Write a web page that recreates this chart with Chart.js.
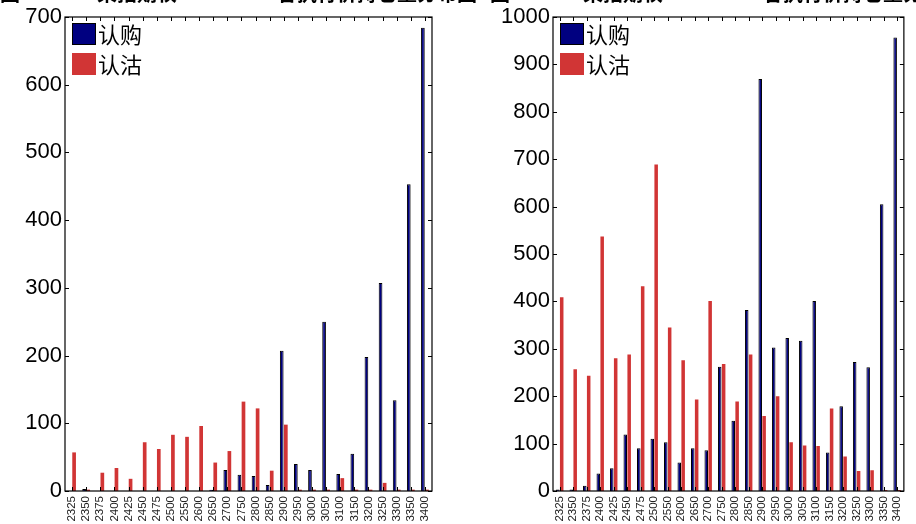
<!DOCTYPE html>
<html>
<head>
<meta charset="utf-8">
<script src="https://cdn.jsdelivr.net/npm/chart.js@4/dist/chart.umd.min.js"></script>
<style>
  html, body { margin: 0; padding: 0; background: #fff; overflow: hidden; }
  #wrap { position: relative; width: 916px; height: 524px; }
  .pane { position: absolute; top: 0; width: 458px; height: 524px; }
  .ttl { position: absolute; top: -17px; font: bold 20px "Noto Sans CJK SC", sans-serif; line-height: 20px; color: #000; white-space: nowrap; }
</style>
</head>
<body>
<div id="wrap">
  <div class="pane" style="left:0"><canvas id="leftChart" width="458" height="524"></canvas></div>
  <div class="pane" style="left:458px"><canvas id="rightChart" width="458" height="524"></canvas></div>
  <div class="ttl" style="left:0">图</div>
  <div class="ttl" style="left:97px">某指期权</div>
  <div class="ttl" style="left:277px">各执行价持仓量分布图</div>
  <div class="ttl" style="left:490px">图</div>
  <div class="ttl" style="left:583px">某指期权</div>
  <div class="ttl" style="left:763px">各执行价持仓量分布图</div>
</div>
<script>
// --- data ---
const strikes = ['2325', '2350', '2375', '2400', '2425', '2450', '2475', '2500', '2550', '2600', '2650',
    '2700', '2750', '2800', '2850', '2900', '2950', '3000', '3050', '3100', '3150', '3200', '3250', '3300',
    '3350', '3400'];
const seriesNames = ['认购', '认沽'];

const leftCall = [0, 3, 0, 0, 0, 0, 0, 0, 0, 0, 2, 31, 24, 22, 9, 207, 40, 31, 250, 25, 55, 198, 307, 134, 453, 684];
const leftPut = [57, 2, 27, 34, 18, 72, 62, 83, 80, 96, 42, 59, 132, 122, 30, 98, 2, 2, 2, 19, 2, 2, 12, 2, 2, 2];

const rightCall = [3, 3, 11, 37, 48, 119, 90, 110, 103, 60, 90, 86, 262, 148, 382, 869, 303, 323, 317, 401, 81, 179, 272, 261, 605, 957];
const rightPut = [409, 257, 243, 537, 280, 288, 432, 689, 345, 276, 193, 401, 268, 189, 288, 158, 200, 103, 96, 95, 174, 73, 42, 44, 2, 2];

const leftTicks = [0, 100, 200, 300, 400, 500, 600, 700];
const rightTicks = [0, 100, 200, 300, 400, 500, 600, 700, 800, 900, 1000];

const callColor = '#000080';
const putColor = '#d13535';

// frame, inward ticks and legend drawn on top of the plot
const framePlugin = {
    id: 'frame',
    afterDraw(chart) {
        const ctx = chart.ctx;
        const a = chart.chartArea;
        const x = chart.scales.x;
        const y = chart.scales.y;
        ctx.save();
        ctx.strokeStyle = '#000';
        ctx.lineWidth = 1.2;
        ctx.strokeRect(a.left, a.top, a.right - a.left, a.bottom - a.top);
        ctx.lineWidth = 1;
        ctx.beginPath();
        for (let i = 0; i < y.ticks.length; i++) {
            const py = Math.round(y.getPixelForTick(i)) + 0.5;
            ctx.moveTo(a.left, py); ctx.lineTo(a.left + 4, py);
            ctx.moveTo(a.right, py); ctx.lineTo(a.right - 4, py);
        }
        for (let i = 0; i < x.ticks.length; i++) {
            const px = Math.round(x.getPixelForTick(i)) + 0.5;
            ctx.moveTo(px, a.top); ctx.lineTo(px, a.top + 4);
            ctx.moveTo(px, a.bottom); ctx.lineTo(px, a.bottom - 4);
        }
        ctx.stroke();

        // legend
        ctx.font = '22px "Noto Sans CJK SC", sans-serif';
        ctx.textBaseline = 'middle';
        chart.data.datasets.forEach((ds, i) => {
            const bx = a.left + 7;
            const by = a.top + 6 + i * 30;
            ctx.fillStyle = ds.backgroundColor;
            ctx.fillRect(bx, by, 24, 22);
            if (ds.borderWidth) {
                ctx.strokeStyle = '#000';
                ctx.strokeRect(bx + 0.5, by + 0.5, 23, 21);
            }
            ctx.fillStyle = '#000';
            ctx.fillText(ds.label, bx + 26, by + 12);
        });
        ctx.restore();
    }
};

function makeChart(id, calls, puts, ticks, yWidth, padRight) {
    const ctx = document.getElementById(id).getContext('2d');
    return new Chart(ctx, {
        type: 'bar',
        data: {
            labels: strikes,
            datasets: [{
                label: seriesNames[0],
                data: calls,
                backgroundColor: callColor,
                borderColor: '#000',
                borderWidth: 1,
                borderSkipped: 'bottom'
            }, {
                label: seriesNames[1],
                data: puts,
                backgroundColor: putColor,
                borderWidth: 0
            }]
        },
        options: {
            responsive: false,
            animation: false,
            categoryPercentage: 0.58,
            barPercentage: 0.9,
            layout: { padding: { top: 17, right: padRight, left: 0, bottom: 0 } },
            plugins: {
                legend: { display: false },
                tooltip: { enabled: false }
            },
            scales: {
                x: {
                    grid: { display: false, drawTicks: false },
                    border: { display: false },
                    ticks: {
                        autoSkip: false,
                        minRotation: 90,
                        maxRotation: 90,
                        padding: 5,
                        color: '#222',
                        font: { family: 'Liberation Sans', size: 11.5 }
                    },
                    afterFit(scale) { scale.height = 33; }
                },
                y: {
                    min: 0,
                    max: ticks[ticks.length - 1],
                    afterBuildTicks(scale) { scale.ticks = ticks.map(v => ({ value: v })); },
                    grid: { display: false, drawTicks: false },
                    border: { display: false },
                    ticks: {
                        padding: 3,
                        color: '#000',
                        font: { family: 'Liberation Sans', size: 22 },
                        callback: function(value) { return String(value); }
                    },
                    afterFit(scale) { scale.width = yWidth; }
                }
            }
        },
        plugins: [framePlugin]
    });
}

const leftChart = makeChart('leftChart', leftCall, leftPut, leftTicks, 65, 26);
const rightChart = makeChart('rightChart', rightCall, rightPut, rightTicks, 95, 4);
</script>
</body>
</html>
